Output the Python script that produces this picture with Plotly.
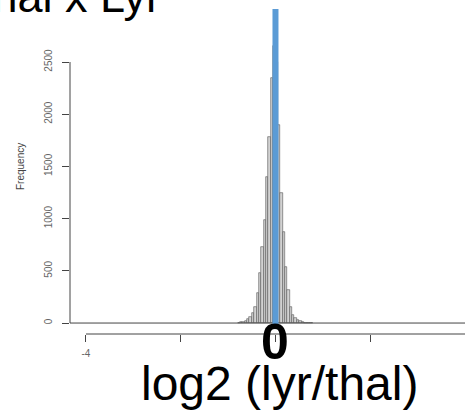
import plotly.graph_objects as go

# ---- data ----
bin_width = 0.05
# left edges of the central bins, from -0.80 to 0.75 (step 0.05)
bin_left_edges = [round(-0.80 + 0.05 * i, 2) for i in range(32)]
bin_counts = [
    4, 7, 12, 20, 35, 57, 95, 150,            # -0.80 .. -0.45
    290, 480, 730, 990, 1400, 1780, 2350, 2650,  # -0.40 .. -0.05
    2500, 1900, 1245, 872, 536, 316, 153, 80,    # 0.00 .. 0.35
    45, 25, 15, 8, 5, 3, 2, 1,               # 0.40 .. 0.75
]
data_range = [-4.4, 4.3]          # extent of the (mostly empty) histogram bins
x_tick_vals = [-4, -2, 0, 2, 4]
x_tick_text = ["-4", "", "", "", "4"]
y_tick_vals = [0, 500, 1000, 1500, 2000, 2500]
y_tick_text = ["0", "500", "1000", "1500", "2000", "2500"]
ref_line_x = 0

bin_centers = [e + bin_width / 2 for e in bin_left_edges]

W, H = 465, 413
ML, MR, MT, MB = 70, 0, 0, 79
PW, PH = W - ML - MR, H - MT - MB


def px_x(p):
    return (p - ML) / PW


def px_y(p):
    return (MT + PH - p) / PH


fig = go.Figure()

# zero baseline of the histogram
fig.add_trace(go.Scatter(
    x=data_range, y=[0, 0], mode="lines",
    line=dict(color="#444444", width=1), hoverinfo="skip", showlegend=False,
))

fig.add_trace(go.Bar(
    x=bin_centers, y=bin_counts, width=bin_width,
    marker=dict(color="#d2d2d2", line=dict(color="#555555", width=0.6)),
    showlegend=False,
))

fig.update_layout(
    width=W, height=H,
    margin=dict(l=ML, r=MR, t=MT, b=MB, autoexpand=False),
    paper_bgcolor="white", plot_bgcolor="white",
    bargap=0,
    font=dict(family="Liberation Sans, Arial, sans-serif"),
    xaxis=dict(
        range=[-4.337, 4.0], showgrid=False, zeroline=False, showline=False,
        ticks="outside", ticklen=7, tickcolor="#444444", tickwidth=1,
        tickvals=x_tick_vals, ticktext=x_tick_text,
        tickfont=dict(size=10, color="#666666"), ticklabelstandoff=3,
        fixedrange=True,
    ),
    yaxis=dict(
        range=[-105, 3094], showgrid=False, zeroline=False, showline=False,
        ticks="outside", ticklen=7, tickcolor="#444444", tickwidth=1,
        tickvals=y_tick_vals, ticktext=y_tick_text, tickangle=-90,
        tickfont=dict(size=10, color="#666666"), ticklabelstandoff=6,
        fixedrange=True,
    ),
    shapes=[
        # R-style y axis line from 0 to 2500
        dict(type="line", xref="paper", yref="y", x0=0, x1=0,
             y0=y_tick_vals[0], y1=y_tick_vals[-1],
             line=dict(color="#444444", width=1)),
        # R-style x axis line from -4 to 4
        dict(type="line", xref="x", yref="paper", x0=x_tick_vals[0], x1=x_tick_vals[-1],
             y0=0, y1=0, line=dict(color="#444444", width=1)),
        # blue reference line at 0
        dict(type="line", xref="x", yref="y", x0=ref_line_x, x1=ref_line_x,
             y0=-48, y1=3008, line=dict(color="#5b9bd5", width=6)),
    ],
    annotations=[
        dict(text="Thal x Lyr", xref="paper", yref="paper",
             x=px_x(63), y=px_y(-3.5), xanchor="center", yanchor="middle",
             showarrow=False, font=dict(size=45, color="black")),
        dict(text="Frequency", xref="paper", yref="paper",
             x=px_x(20), y=0.5, xanchor="center", yanchor="middle", textangle=-90,
             showarrow=False, font=dict(size=10, color="#444444")),
        dict(text="<b>0</b>", xref="x", yref="paper",
             x=ref_line_x, y=px_y(342), xanchor="center", yanchor="middle",
             showarrow=False, font=dict(size=50, color="black")),
        dict(text="log2 (lyr/thal)", xref="paper", yref="paper",
             x=px_x(279.5), y=px_y(383), xanchor="center", yanchor="middle",
             showarrow=False, font=dict(size=48, color="black")),
    ],
)

fig.write_html(
    "out.html",
    config={"displayModeBar": False},
    post_script="document.body.style.margin='0';document.body.style.overflow='hidden';",
)
